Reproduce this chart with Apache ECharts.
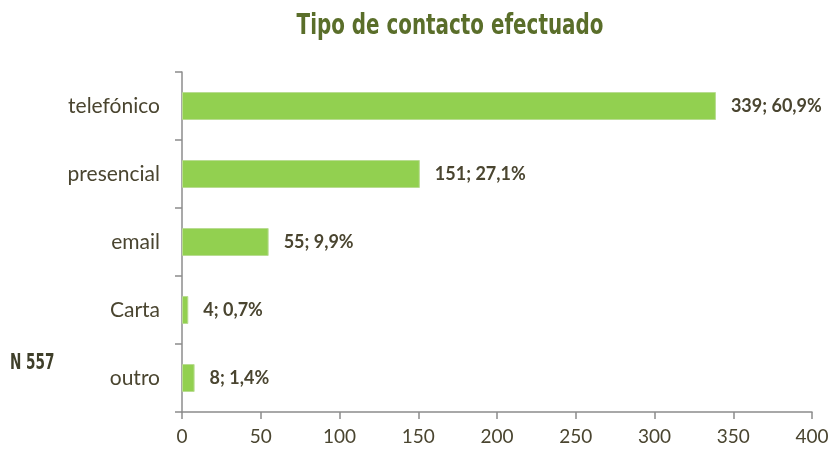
<!DOCTYPE html>
<html><head><meta charset="utf-8">
<script src="https://cdn.jsdelivr.net/npm/echarts@6/dist/echarts.min.js"></script>
<style>html,body{margin:0;padding:0;background:#fff}#c{width:835px;height:454px}</style>
</head><body><div id="c"></div>
<script>
const categories = ["telefónico", "presencial", "email", "Carta", "outro"];
const values = [339, 151, 55, 4, 8];
const percents = ["60,9%", "27,1%", "9,9%", "0,7%", "1,4%"];
const titleText = "Tipo de contacto efectuado";
const noteText = "N 557";

const chart = echarts.init(document.getElementById('c'), null, {renderer: 'canvas'});
const textColor = '#4a4530';
chart.setOption({
  animation: false,
  graphic: [{
    type: 'text', x: 450, y: 27, scaleX: 0.79,
    style: {text: titleText, font: 'bold 28px "DejaVu Sans Condensed"', fill: '#5a6e2a',
            textAlign: 'center', textVerticalAlign: 'middle'}
  }, {
    type: 'text', x: 10, y: 364, scaleX: 0.72,
    style: {text: noteText, font: 'bold 21px "DejaVu Sans Condensed"', fill: '#3f3f2a',
            textAlign: 'left', textVerticalAlign: 'middle'}
  }],
  grid: {left: 182, right: 23, top: 72, bottom: 42, containLabel: false},
  xAxis: {
    type: 'value', min: 0, max: 400, interval: 50,
    axisLine: {show: true, lineStyle: {color: '#8c8c8c', width: 1.5}},
    axisTick: {show: true, length: 7, lineStyle: {color: '#8c8c8c', width: 1.5}},
    splitLine: {show: false},
    axisLabel: {color: textColor, fontFamily: 'Lato', fontSize: 19, margin: 15}
  },
  yAxis: {
    type: 'category', data: categories, inverse: true,
    axisLine: {show: true, lineStyle: {color: '#8c8c8c', width: 1.5}},
    axisTick: {show: true, length: 7, alignWithLabel: false, lineStyle: {color: '#8c8c8c', width: 1.5}},
    axisLabel: {color: textColor, fontFamily: 'Lato', fontSize: 21, margin: 22}
  },
  series: [{
    type: 'bar', data: values, barWidth: 28,
    itemStyle: {color: '#92d050', borderColor: '#b9dc92', borderWidth: 1},
    label: {
      show: true, position: 'right', distance: 15,
      fontFamily: 'Lato', fontWeight: 'bold', fontSize: 18, color: textColor,
      formatter: p => p.value + '; ' + percents[p.dataIndex]
    }
  }]
});
</script></body></html>
